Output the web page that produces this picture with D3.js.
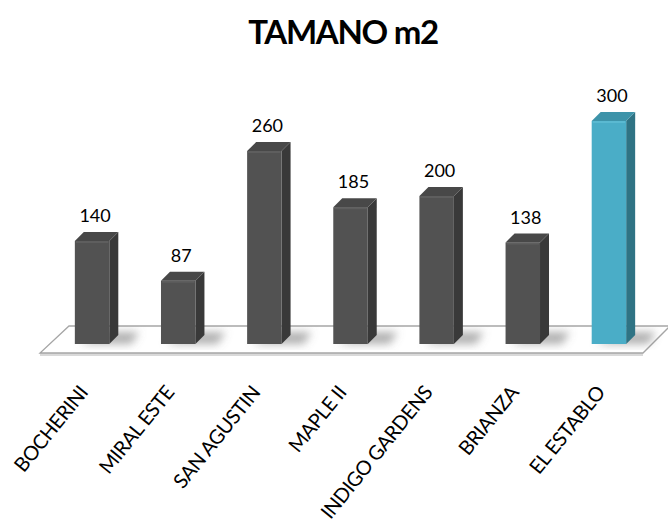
<!DOCTYPE html>
<html>
<head>
<meta charset="utf-8">
<script src="https://cdn.jsdelivr.net/npm/d3@7/dist/d3.min.js"></script>
<style>
  html, body { margin: 0; padding: 0; background: #fff; }
  svg { display: block; }
</style>
</head>
<body>
<div id="chart"></div>
<script>
// Surface per development, in square metres
const categories = ["BOCHERINI", "MIRAL ESTE", "SAN AGUSTIN", "MAPLE II", "INDIGO GARDENS", "BRIANZA", "EL ESTABLO"];
const values = [140, 87, 260, 185, 200, 138, 300];
const highlighted = ["EL ESTABLO"];
const chartTitle = "TAMANO m2";

const W = 668, H = 523;
const depthX = 9, depthY = 9;   // 3D extrusion offset
const baseY = 344;              // where bars meet the floor

const svg = d3.select("#chart").append("svg")
  .attr("width", W).attr("height", H);

const defs = svg.append("defs");
defs.append("filter").attr("id", "shadowBlur")
  .attr("x", "-50%").attr("y", "-50%").attr("width", "200%").attr("height", "200%")
  .append("feGaussianBlur").attr("stdDeviation", 4);

const x = d3.scaleBand()
  .domain(categories)
  .range([49, 652])
  .paddingInner(0.6)
  .paddingOuter(0.3);

const y = d3.scaleLinear()
  .domain([0, 300])
  .range([346, 121]);

const palette = {
  normal: { front: "#525252", side: "#393939", top: "#484848", edge: "#5e5e5e" },
  accent: { front: "#4aadc7", side: "#2f7384", top: "#3d93a9", edge: "#5ab9d1" }
};

// Title
svg.append("text")
  .attr("x", 343).attr("y", 44)
  .attr("text-anchor", "middle")
  .attr("font-family", "Lato, 'Open Sans', sans-serif")
  .attr("font-weight", "bold")
  .attr("font-size", 33)
  .attr("letter-spacing", -1.3)
  .attr("fill", "#000")
  .text(chartTitle);

// Floor plane
const floor = svg.append("g");
const floorPts = [[69, 326], [670, 326], [643, 353], [40, 353]];
floor.append("path")
  .attr("d", "M40,353 L643,353 L643,356 L40,356 Z")
  .attr("fill", "#d9d9d9");
floor.append("path")
  .attr("d", "M" + floorPts.map(p => p.join(",")).join("L") + "Z")
  .attr("fill", "#ffffff")
  .attr("stroke", "#a6a6a6")
  .attr("stroke-width", 1.3);

// Bar shadows on the floor
const shadows = svg.append("g").attr("filter", "url(#shadowBlur)");
categories.forEach((c, i) => {
  const x0 = x(c), bw = x.bandwidth();
  shadows.append("path")
    .attr("d", `M${x0 + bw - 4},${baseY - 12} L${x0 + bw + 30},${baseY - 12} L${x0 + bw + 22},${baseY} L${x0 + 4},${baseY} Z`)
    .attr("fill", "#707070")
    .attr("opacity", 0.55);
});

// Bars
const bars = svg.append("g");
categories.forEach((c, i) => {
  const v = values[i];
  const col = highlighted.includes(c) ? palette.accent : palette.normal;
  const x0 = x(c), bw = x.bandwidth(), x1 = x0 + bw;
  const yt = y(v);
  const g = bars.append("g");
  // side face
  g.append("path")
    .attr("d", `M${x1},${yt} L${x1 + depthX},${yt - depthY} L${x1 + depthX},${baseY - depthY} L${x1},${baseY} Z`)
    .attr("fill", col.side);
  // top face
  g.append("path")
    .attr("d", `M${x0},${yt} L${x0 + depthX},${yt - depthY} L${x1 + depthX},${yt - depthY} L${x1},${yt} Z`)
    .attr("fill", col.top);
  // front face
  g.append("rect")
    .attr("x", x0).attr("y", yt)
    .attr("width", bw).attr("height", baseY - yt)
    .attr("fill", col.front);
  // soft bevel along the top front edge
  g.append("line")
    .attr("x1", x0 + 1).attr("x2", x1 - 1)
    .attr("y1", yt + 1).attr("y2", yt + 1)
    .attr("stroke", col.edge).attr("stroke-width", 2);
  // value label
  g.append("text")
    .attr("x", x0 + bw / 2 + 3)
    .attr("y", yt - depthY - 10)
    .attr("text-anchor", "middle")
    .attr("font-family", "Lato, 'Open Sans', sans-serif")
    .attr("font-size", 18)
    .attr("fill", "#000")
    .text(v);
});

// Category labels, slanted under the floor
const labels = svg.append("g");
categories.forEach(c => {
  const cx = x(c) + x.bandwidth() / 2 - 3;
  labels.append("text")
    .attr("transform", `translate(${cx},393) rotate(-51)`)
    .attr("text-anchor", "end")
    .attr("font-family", "Lato, 'Open Sans', sans-serif")
    .attr("font-size", 20)
    .attr("letter-spacing", -0.5)
    .attr("fill", "#000")
    .text(c);
});
</script>
</body>
</html>
